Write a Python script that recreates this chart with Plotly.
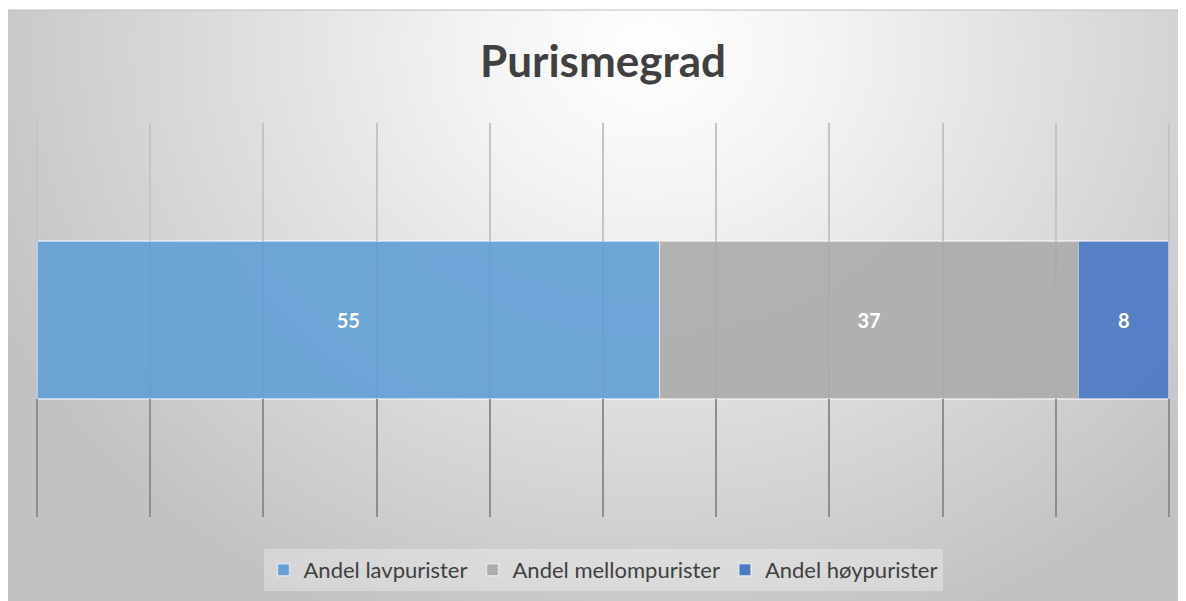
import plotly.graph_objects as go

# ---- data ----
category = ["Purismegrad"]
series_names = ["Andel lavpurister", "Andel mellompurister", "Andel høypurister"]
series_values = [55, 37, 8]
series_colors = ["#66A1D7", "#ADADAD", "#4E79C4"]
x_min, x_max = 0, 100
x_dtick = 10

# figure is placed by the page with an 8px body margin
W, H = 1178, 593
FONT = "Lato"

fig = go.Figure()

# background radial gradient (style only) on auxiliary axes covering the chart box
top = 2
bh = H - top
cx, cy = 642, bh - (42 - top)
rx, ry = 720, 620
fig.add_trace(go.Scatter(
    x=[cx - rx, cx + rx, cx + rx, cx - rx, cx - rx],
    y=[cy - ry, cy - ry, cy + ry, cy + ry, cy - ry],
    mode="lines", line=dict(width=0), fill="toself",
    fillgradient=dict(type="radial",
                      colorscale=[[0, "#ffffff"], [0.25, "#f3f3f3"], [0.6, "#dcdcdc"], [1, "#c2c2c2"]]),
    hoverinfo="skip", showlegend=False, xaxis="x", yaxis="y"))

for name, val, col in zip(series_names, series_values, series_colors):
    fig.add_trace(go.Bar(
        y=category, x=[val], name=name, orientation="h",
        marker=dict(color=col, opacity=0.93, line=dict(color="rgba(255,255,255,0.55)", width=1.5)),
        text=[str(val)], textposition="inside", insidetextanchor="middle",
        textfont=dict(family=FONT, size=20, color="white", weight="bold"),
        hoverinfo="skip", xaxis="x2", yaxis="y2"))

# invisible helper traces so the upper / lower grid bands get drawn
for ax in ("3", "4"):
    fig.add_trace(go.Scatter(x=[None], y=[None], xaxis="x" + ax, yaxis="y" + ax,
                             showlegend=False, hoverinfo="skip"))

px0, px1 = 29, 1161          # plot area left/right (fig px) for x_min / x_max
py0, py1 = 115, 509          # plot area top/bottom (fig px)
bar_top, bar_bot = 233, 391  # bar band (fig px)
pad = 0.2                    # small range padding so edge gridlines are drawn
ppu = (px1 - px0) / (x_max - x_min)
x_range = [x_min - pad, x_max + pad]
x_dom = [(px0 - pad * ppu) / W, (px1 + pad * ppu) / W]

def ydom(a, b):
    return [(H - b) / H, (H - a) / H]

grid_common = dict(domain=x_dom, range=x_range, tick0=0, dtick=x_dtick, showgrid=True,
                   gridwidth=1.5, zeroline=False, showticklabels=False, showline=False,
                   ticks="", fixedrange=True)
hidden_y = dict(showgrid=False, showticklabels=False, zeroline=False, showline=False,
                ticks="", fixedrange=True, range=[0, 1])

fig.update_layout(
    width=W, height=H,
    margin=dict(l=0, r=0, t=0, b=0),
    paper_bgcolor="white", plot_bgcolor="rgba(0,0,0,0)",
    barmode="stack", bargap=0.6,
    font=dict(family=FONT, color="#404040"),
    title=dict(text="<b>Purismegrad</b>", x=595 / W, xanchor="center", y=1 - 54 / H, yanchor="middle",
               font=dict(family=FONT, size=44, color="#404040")),
    xaxis=dict(domain=[0, 1], range=[0, W], visible=False, fixedrange=True),
    yaxis=dict(domain=[0, bh / H], range=[0, bh], visible=False, fixedrange=True),
    xaxis2=dict(**grid_common, gridcolor="rgba(95,95,95,0.5)", anchor="y2"),
    yaxis2=dict(domain=ydom(py0, py1), range=[-0.5, 0.5], showgrid=False,
                showticklabels=False, zeroline=False, showline=False, ticks="", anchor="x2",
                fixedrange=True),
    xaxis3=dict(**grid_common, gridcolor="#c4c4c4", anchor="y3"),
    yaxis3=dict(**hidden_y, domain=ydom(py0, bar_top), anchor="x3"),
    xaxis4=dict(**grid_common, gridcolor="#8e8e8e", anchor="y4"),
    yaxis4=dict(**hidden_y, domain=ydom(bar_bot, py1), anchor="x4"),
    legend=dict(orientation="h", x=595 / W, xanchor="center", y=(H - 562) / H, yanchor="middle",
                bgcolor="rgba(255,255,255,0.3)", font=dict(family=FONT, size=22, color="#404040"),
                traceorder="normal", itemclick=False, itemdoubleclick=False),
    shapes=[dict(type="rect", xref="paper", yref="paper", x0=-0.002, x1=1.01, y0=-0.01, y1=bh / H,
                 line=dict(color="#bdbdbd", width=1), layer="above")],
)

fig.write_html("out.html")
